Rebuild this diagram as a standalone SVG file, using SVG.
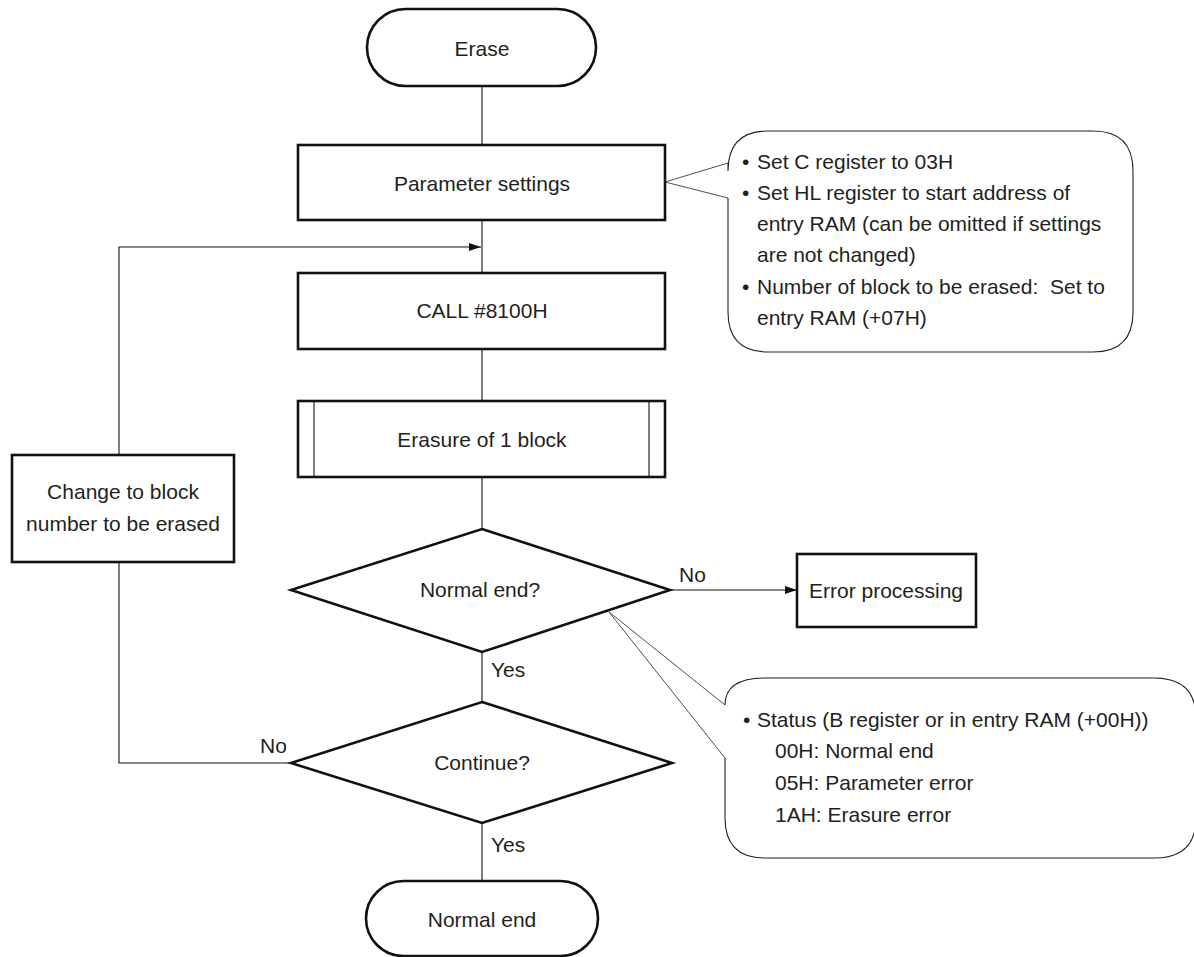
<svg xmlns="http://www.w3.org/2000/svg" width="1194" height="957" viewBox="0 0 1194 957">
  <style>
    .box { fill: #fff; stroke: #111; stroke-width: 2.6; }
    .thin { fill: none; stroke: #111; stroke-width: 1.1; }
    .note { fill: #fff; stroke: #222; stroke-width: 1.1; }
    .ptr { fill: none; stroke: #222; stroke-width: 0.8; }
    .t { font-family: "Liberation Sans", Arial, sans-serif; font-size: 21px; fill: #231f20; }
    .c { text-anchor: middle; }
  </style>
  <defs>
    <marker id="arrow" viewBox="0 0 12 8" refX="12" refY="4" markerWidth="12" markerHeight="8" markerUnits="userSpaceOnUse" orient="auto">
      <path d="M0,0 L12,4 L0,8 z" fill="#111"/>
    </marker>
  </defs>

  <!-- connectors -->
  <g id="connectors" class="thin">
    <line x1="482" y1="86" x2="482" y2="145"/>
    <line x1="482" y1="220" x2="482" y2="273"/>
    <line x1="482" y1="349" x2="482" y2="401"/>
    <line x1="482" y1="477" x2="482" y2="529"/>
    <line x1="482" y1="652" x2="482" y2="702"/>
    <line x1="482" y1="823" x2="482" y2="881"/>
    <line x1="670" y1="590" x2="797" y2="590" marker-end="url(#arrow)"/>
    <polyline points="291,763 119,763 119,562"/>
    <polyline points="119,455 119,247 481,247" marker-end="url(#arrow)"/>
  </g>

  <!-- connector labels -->
  <g id="labels" class="t">
    <text x="679" y="582">No</text>
    <text x="491" y="677">Yes</text>
    <text x="260" y="753">No</text>
    <text x="491" y="852">Yes</text>
  </g>

  <g id="start">
    <rect class="box" x="367" y="9" width="229" height="77" rx="38.5"/>
    <text class="t c" x="482" y="56">Erase</text>
  </g>

  <g id="params">
    <rect class="box" x="298" y="145" width="367" height="75"/>
    <text class="t c" x="482" y="191">Parameter settings</text>
  </g>

  <g id="call">
    <rect class="box" x="298" y="273" width="367" height="76"/>
    <text class="t c" x="482" y="318">CALL #8100H</text>
  </g>

  <g id="erase-block">
    <rect class="box" x="298" y="401" width="367" height="76"/>
    <line class="thin" x1="314" y1="401" x2="314" y2="477"/>
    <line class="thin" x1="649" y1="401" x2="649" y2="477"/>
    <text class="t c" x="482" y="447">Erasure of 1 block</text>
  </g>

  <g id="check-end">
    <polygon class="box" points="482,529 670,590 482,652 291,590"/>
    <text class="t c" x="480" y="597">Normal end?</text>
  </g>

  <g id="error">
    <rect class="box" x="797" y="554" width="179" height="73"/>
    <text class="t c" x="886" y="598">Error processing</text>
  </g>

  <g id="continue">
    <polygon class="box" points="482,702 672,763 482,823 291,763"/>
    <text class="t c" x="482" y="770">Continue?</text>
  </g>

  <g id="next-block">
    <rect class="box" x="12" y="455" width="222" height="107"/>
    <text class="t c" x="123" y="499">Change to block</text>
    <text class="t c" x="123" y="531">number to be erased</text>
  </g>

  <g id="end">
    <rect class="box" x="366" y="881" width="232" height="75" rx="37.5"/>
    <text class="t c" x="482" y="927">Normal end</text>
  </g>

  <!-- note: parameter setup -->
  <g id="note-params">
    <path class="note" d="M728,163 L728,171 Q728,131 768,131 L1093,131 Q1133,131 1133,171 L1133,312 Q1133,352 1093,352 L768,352 Q728,352 728,312 L728,198"/>
    <polyline class="ptr" points="728,163 665,182 728,198"/>
    <g class="t">
      <text x="742" y="169">•</text>
      <text x="757" y="169">Set C register to 03H</text>
      <text x="742" y="200">•</text>
      <text x="757" y="200">Set HL register to start address of</text>
      <text x="757" y="231">entry RAM (can be omitted if settings</text>
      <text x="757" y="262">are not changed)</text>
      <text x="742" y="294">•</text>
      <text x="757" y="294" xml:space="preserve">Number of block to be erased:  Set to</text>
      <text x="757" y="325">entry RAM (+07H)</text>
    </g>
  </g>

  <!-- note: status codes -->
  <g id="note-status">
    <path class="note" d="M725,705 Q725,678 765,678 L1154,678 Q1196,678 1196,718 L1196,818 Q1196,858 1154,858 L765,858 Q725,858 725,818 L725,758"/>
    <polyline class="ptr" points="725,705 609,612 725,758"/>
    <g class="t">
      <text x="743" y="727">•</text>
      <text x="757" y="727">Status (B register or in entry RAM (+00H))</text>
      <text x="775" y="758">00H: Normal end</text>
      <text x="775" y="790">05H: Parameter error</text>
      <text x="775" y="822">1AH: Erasure error</text>
    </g>
  </g>
</svg>
